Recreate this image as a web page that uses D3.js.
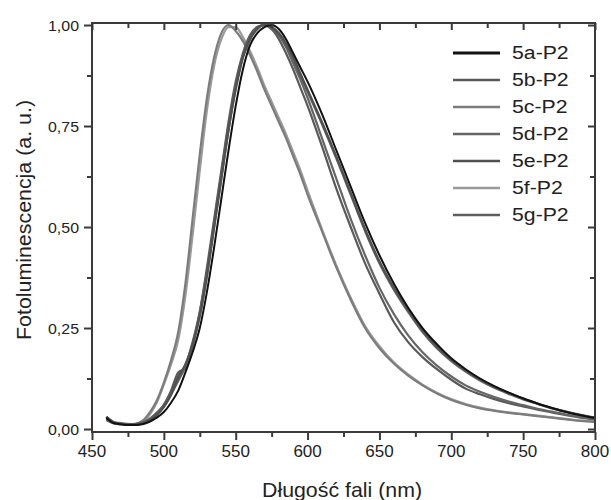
<!DOCTYPE html>
<html>
<head>
<meta charset="utf-8">
<script src="https://cdn.jsdelivr.net/npm/d3@7"></script>
<style>
    body { margin: 0; background: #fff; }
    svg { display: block; font-family: "Liberation Sans", Arial, sans-serif; }
</style>
</head>
<body>
<div id="chart"></div>
<script>
// Wavelengths (nm) shared by every spectrum
const wavelengths = [460, 465, 470, 475, 480, 485, 490, 495, 500, 505, 510, 515, 520, 525, 530, 535, 540, 545, 550, 555,
    560, 565, 570, 575, 580, 585, 590, 595, 600, 610, 620, 630, 640, 650, 660, 670, 680, 690, 700, 710,
    720, 730, 740, 750, 760, 770, 780, 790, 800];

const seriesNames = ['5a-P2', '5b-P2', '5c-P2', '5d-P2', '5e-P2', '5f-P2', '5g-P2'];

const s5a = [0.028, 0.015, 0.012, 0.010, 0.010, 0.012, 0.018, 0.028, 0.042, 0.065, 0.095, 0.14, 0.19, 0.25, 0.34, 0.45, 0.57, 0.69, 0.80, 0.89,
    0.95, 0.98, 0.995, 1.0, 0.99, 0.965, 0.93, 0.895, 0.86, 0.78, 0.69, 0.60, 0.51, 0.43, 0.36, 0.30, 0.25, 0.21, 0.175, 0.148,
    0.125, 0.106, 0.09, 0.076, 0.063, 0.052, 0.042, 0.034, 0.027];
const s5b = [0.030, 0.016, 0.013, 0.011, 0.012, 0.015, 0.024, 0.038, 0.060, 0.095, 0.14, 0.15, 0.21, 0.29, 0.40, 0.52, 0.64, 0.76, 0.86, 0.93,
    0.975, 0.995, 1.0, 0.99, 0.965, 0.93, 0.89, 0.845, 0.80, 0.70, 0.595, 0.50, 0.41, 0.335, 0.265, 0.215, 0.178, 0.148, 0.122, 0.10,
    0.086, 0.074, 0.064, 0.056, 0.048, 0.041, 0.034, 0.028, 0.023];
const s5c = [0.025, 0.015, 0.014, 0.012, 0.013, 0.020, 0.040, 0.070, 0.115, 0.17, 0.24, 0.36, 0.52, 0.68, 0.82, 0.92, 0.98, 1.0, 0.985, 0.96,
    0.925, 0.885, 0.84, 0.80, 0.76, 0.72, 0.675, 0.63, 0.58, 0.49, 0.40, 0.32, 0.25, 0.20, 0.162, 0.132, 0.108, 0.088, 0.072, 0.060,
    0.051, 0.045, 0.040, 0.036, 0.032, 0.028, 0.024, 0.020, 0.017];
const s5d = [0.025, 0.015, 0.012, 0.011, 0.011, 0.014, 0.022, 0.035, 0.055, 0.085, 0.12, 0.16, 0.205, 0.28, 0.38, 0.50, 0.62, 0.74, 0.845, 0.92,
    0.965, 0.99, 1.0, 0.995, 0.975, 0.945, 0.905, 0.865, 0.82, 0.72, 0.62, 0.52, 0.43, 0.35, 0.285, 0.232, 0.19, 0.157, 0.13, 0.108,
    0.092, 0.079, 0.068, 0.059, 0.05, 0.043, 0.036, 0.030, 0.025];
const s5e = [0.030, 0.017, 0.013, 0.011, 0.011, 0.014, 0.022, 0.035, 0.055, 0.085, 0.13, 0.16, 0.21, 0.28, 0.38, 0.50, 0.62, 0.74, 0.84, 0.92,
    0.965, 0.99, 1.0, 0.995, 0.98, 0.955, 0.92, 0.88, 0.84, 0.76, 0.675, 0.585, 0.495, 0.415, 0.35, 0.295, 0.245, 0.205, 0.172, 0.145,
    0.123, 0.104, 0.089, 0.075, 0.063, 0.052, 0.043, 0.035, 0.028];
const s5f = [0.030, 0.018, 0.015, 0.013, 0.012, 0.016, 0.035, 0.065, 0.11, 0.16, 0.22, 0.33, 0.48, 0.64, 0.79, 0.90, 0.965, 0.995, 0.995, 0.97,
    0.935, 0.895, 0.85, 0.81, 0.77, 0.73, 0.685, 0.64, 0.59, 0.495, 0.405, 0.325, 0.255, 0.205, 0.165, 0.135, 0.11, 0.09, 0.074, 0.062,
    0.053, 0.046, 0.041, 0.037, 0.033, 0.029, 0.025, 0.021, 0.018];
const s5g = [0.022, 0.014, 0.012, 0.011, 0.012, 0.016, 0.025, 0.040, 0.060, 0.09, 0.12, 0.155, 0.215, 0.29, 0.39, 0.51, 0.63, 0.75, 0.85, 0.925,
    0.97, 0.995, 1.0, 0.99, 0.975, 0.95, 0.915, 0.875, 0.835, 0.755, 0.67, 0.58, 0.49, 0.41, 0.345, 0.29, 0.24, 0.20, 0.168, 0.142,
    0.12, 0.102, 0.087, 0.073, 0.062, 0.051, 0.042, 0.034, 0.028];

const seriesValues = [s5a, s5b, s5c, s5d, s5e, s5f, s5g];
const seriesColors = ['#111111', '#5a5a5a', '#7c7c7c', '#666666', '#505050', '#9a9a9a', '#5e5e5e'];

const xTicks = [450, 500, 550, 600, 650, 700, 750, 800];
const yTicks = [0, 0.25, 0.5, 0.75, 1.0];
const yTickLabels = ['0,00', '0,25', '0,50', '0,75', '1,00'];

const margin = {top: 23, right: 16, bottom: 68, left: 92};
const W = 611, H = 500;
const width = W - margin.left - margin.right;
const height = H - margin.top - margin.bottom;

const svg = d3.select('#chart').append('svg')
    .attr('width', W)
    .attr('height', H);

const g = svg.append('g')
    .attr('transform', `translate(${margin.left},${margin.top})`);

const x = d3.scaleLinear().domain([450, 800]).range([0, width]);
const y = d3.scaleLinear().domain([-0.0074, 1.005]).range([height, 0]);

// Curves
const line = d3.line()
    .x(d => x(d[0]))
    .y(d => y(d[1]))
    .curve(d3.curveMonotoneX);

// draw light ones first, black on top
const order = [5, 2, 1, 3, 6, 4, 0];
order.forEach(i => {
    g.append('path')
        .datum(wavelengths.map((w, k) => [w, seriesValues[i][k]]))
        .attr('fill', 'none')
        .attr('stroke', seriesColors[i])
        .attr('stroke-width', i === 0 ? 2 : 2.2)
        .attr('stroke-linejoin', 'round')
        .attr('d', line);
});

// Axes
const minorX = d3.range(450, 801, 25);
const minorY = d3.range(0, 1.001, 0.125);

const axisColor = '#3a3a3a';

const axBottom = g.append('g')
    .attr('transform', `translate(0,${height})`)
    .call(d3.axisBottom(x).tickValues(minorX).tickSize(0).tickFormat(''));
axBottom.select('.domain').remove();
axBottom.selectAll('.tick line')
    .attr('y2', d => xTicks.includes(d) ? 8 : 5)
    .attr('stroke', axisColor).attr('stroke-width', 2);

g.selectAll('.xlabel')
    .data(xTicks)
    .enter().append('text')
    .attr('class', 'xlabel')
    .attr('x', d => x(d))
    .attr('y', height + 25)
    .attr('text-anchor', 'middle')
    .style('font-size', '17px')
    .style('fill', '#222')
    .text(d => d);

const axTop = g.append('g')
    .call(d3.axisTop(x).tickValues(minorX).tickSize(0).tickFormat(''));
axTop.select('.domain').remove();
axTop.selectAll('.tick line')
    .attr('y2', d => xTicks.includes(d) ? 7 : 5)
    .attr('stroke', axisColor).attr('stroke-width', 2);

const axLeft = g.append('g')
    .call(d3.axisLeft(y).tickValues(minorY).tickSize(0).tickFormat(''));
axLeft.select('.domain').remove();
axLeft.selectAll('.tick line')
    .attr('x2', (d, i) => i % 2 === 0 ? -8 : -5)
    .attr('stroke', axisColor).attr('stroke-width', 2);

g.selectAll('.ylabel')
    .data(yTicks)
    .enter().append('text')
    .attr('class', 'ylabel')
    .attr('x', -13)
    .attr('y', d => y(d))
    .attr('dy', '0.36em')
    .attr('text-anchor', 'end')
    .attr('textLength', 31)
    .attr('lengthAdjust', 'spacingAndGlyphs')
    .style('font-size', '15.5px')
    .style('fill', '#222')
    .text((d, i) => yTickLabels[i]);

const axRight = g.append('g')
    .attr('transform', `translate(${width},0)`)
    .call(d3.axisRight(y).tickValues(minorY).tickSize(0).tickFormat(''));
axRight.select('.domain').remove();
axRight.selectAll('.tick line')
    .attr('x2', (d, i) => i % 2 === 0 ? -7 : -5)
    .attr('stroke', axisColor).attr('stroke-width', 2);

// Frame
g.append('rect')
    .attr('width', width)
    .attr('height', height)
    .attr('fill', 'none')
    .attr('stroke', axisColor)
    .attr('stroke-width', 2);

// Axis titles
svg.append('text')
    .attr('x', 342)
    .attr('y', 497)
    .attr('text-anchor', 'middle')
    .attr('textLength', 160)
    .attr('lengthAdjust', 'spacingAndGlyphs')
    .style('font-size', '21px')
    .style('fill', '#222')
    .text('Długość fali (nm)');

svg.append('text')
    .attr('transform', 'translate(31,220) rotate(-90)')
    .attr('text-anchor', 'middle')
    .attr('textLength', 240)
    .attr('lengthAdjust', 'spacingAndGlyphs')
    .style('font-size', '21px')
    .style('fill', '#222')
    .text('Fotoluminescencja (a. u.)');

// Legend
const legend = svg.append('g').attr('transform', 'translate(453,53)');
seriesNames.forEach((name, i) => {
    const row = legend.append('g').attr('transform', `translate(0,${i * 27})`);
    row.append('line')
        .attr('x1', 0).attr('x2', 47)
        .attr('stroke', seriesColors[i])
        .attr('stroke-width', i === 0 ? 3 : 2.5);
    const t = row.append('text')
        .attr('x', 59)
        .attr('dy', '0.36em')
        .style('font-size', '18px')
        .style('fill', '#222')
        .text(name);
    // labels in the original are a bit wider than plain Arial
    t.attr('textLength', t.node().getComputedTextLength() * 1.18)
        .attr('lengthAdjust', 'spacingAndGlyphs');
});
</script>
</body>
</html>
